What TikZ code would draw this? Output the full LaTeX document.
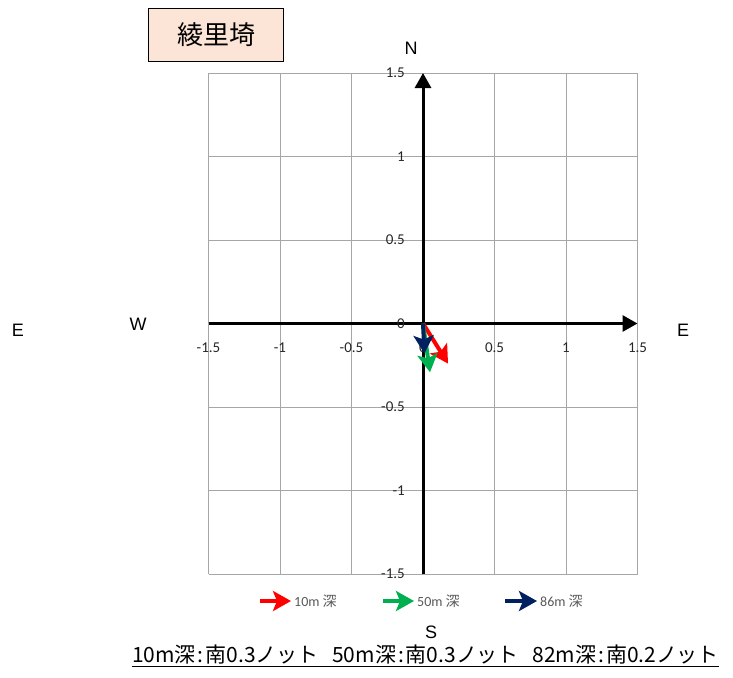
\documentclass[tikz,border=0pt]{standalone}
\usepackage{fontspec}
\setmainfont{Liberation Sans}
\newfontfamily\jpfont{Noto Sans CJK JP}
\newfontfamily\tickfont{Carlito}
\usetikzlibrary{positioning,arrows.meta}

\definecolor{titlefill}{HTML}{FCE4D6}
\definecolor{gridgray}{HTML}{A6A6A6}
\definecolor{curred}{HTML}{FF0000}
\definecolor{curgreen}{HTML}{00B050}
\definecolor{curnavy}{HTML}{002060}
\definecolor{legendgray}{HTML}{595959}

\begin{document}
\begin{tikzpicture}[
		x=1pt, y=-1pt,
		gridline/.style={draw=gridgray, line width=1pt},
		axis/.style={draw=black, line width=3pt, -{Triangle[length=15pt,width=16pt]}},
		current/.style={line width=4pt, -{Stealth[length=18pt,width=20pt,inset=4pt]}},
		ticklabel/.style={font=\tickfont\fontsize{15}{15}\selectfont, text=black!85, inner sep=1pt},
		compass/.style={font=\fontsize{18}{18}\selectfont, inner sep=0pt},
		legendtext/.style={font=\tickfont\fontsize{14}{14}\selectfont, text=legendgray, anchor=west, inner sep=0pt},
		titlebox/.style={rectangle, draw=black, fill=titlefill, line width=1.6pt, minimum width=135pt, minimum height=53pt, font=\jpfont\fontsize{26}{26}\selectfont},
		]
		\useasboundingbox (0,0) rectangle (733,677);

		%Title
		\node[titlebox]	(title)	at (216,35)	{綾里埼};

		%Compass letters
		\node[compass]	(north)		at (411,48)		{N};
		\node[compass]	(south)		at (431,632)	{S};
		\node[compass]	(west)		at (138,324)	{W};
		\node[compass]	(eastl)		at (18,330)		{E};
		\node[compass]	(eastr)		at (683,330)	{E};

		%Plot area in data units
		\begin{scope}[shift={(423,323.5)}, x=143pt, y=167pt]
			\foreach \g in {-1.5,-1,-0.5,0,0.5,1,1.5} {
				\draw[gridline] (\g,-1.5) -- (\g,1.5);
				\draw[gridline] (-1.5,\g) -- (1.5,\g);
			}
			\coordinate (o)		at (0,0);
			\coordinate (xmin)	at (-1.5,0);
			\coordinate (xmax)	at (1.5,0);
			\coordinate (ymin)	at (0,-1.5);
			\coordinate (ymax)	at (0,1.5);
			\draw[axis] (xmin) -- (xmax);
			\draw[axis] (ymin) -- (ymax);

			%Tick labels
			\foreach \g/\t in {-1.5/-1.5,-1/-1,-0.5/-0.5,0/0,0.5/0.5,1/1,1.5/1.5} {
				\node[ticklabel, anchor=east]	(ylab\t)	at (-0.119,\g)	{\t};
				\node[ticklabel]				(xlab\t)	at (\g,-0.147)	{\t};
			}

			%Currents
			\coordinate (v10)	at (0.175,-0.240);
			\coordinate (v50)	at (0.049,-0.292);
			\coordinate (v86)	at (0.010,-0.180);
			\draw[current, curred]		(o) -- (v10);
			\draw[current, curgreen]	(o) -- (v50);
			\draw[current, curnavy]		(o) -- (v86);
		\end{scope}

		%Legend
		\coordinate (l10a)	at (260,601);
		\coordinate (l10b)	at (291,601);
		\coordinate (l50a)	at (383,601);
		\coordinate (l50b)	at (414,601);
		\coordinate (l86a)	at (505,601);
		\coordinate (l86b)	at (537,601);
		\draw[current, curred]		(l10a) -- (l10b);
		\draw[current, curgreen]	(l50a) -- (l50b);
		\draw[current, curnavy]		(l86a) -- (l86b);
		\node[legendtext]	(leg10)	[right=3pt of l10b]	{10m {\jpfont 深}};
		\node[legendtext]	(leg50)	[right=3pt of l50b]	{50m {\jpfont 深}};
		\node[legendtext]	(leg86)	[right=3pt of l86b]	{86m {\jpfont 深}};

		%Summary
		\node[font=\jpfont\fontsize{21}{21}\selectfont, inner sep=0pt]	(summary)	at (425.5,656)
			{\underline{10m深\hspace{2pt}:\hspace{2pt}南0.3ノット\hspace{14pt}50m深\hspace{2pt}:\hspace{2pt}南0.3ノット\hspace{14pt}82m深\hspace{2pt}:\hspace{2pt}南0.2ノット}};
\end{tikzpicture}
\end{document}
